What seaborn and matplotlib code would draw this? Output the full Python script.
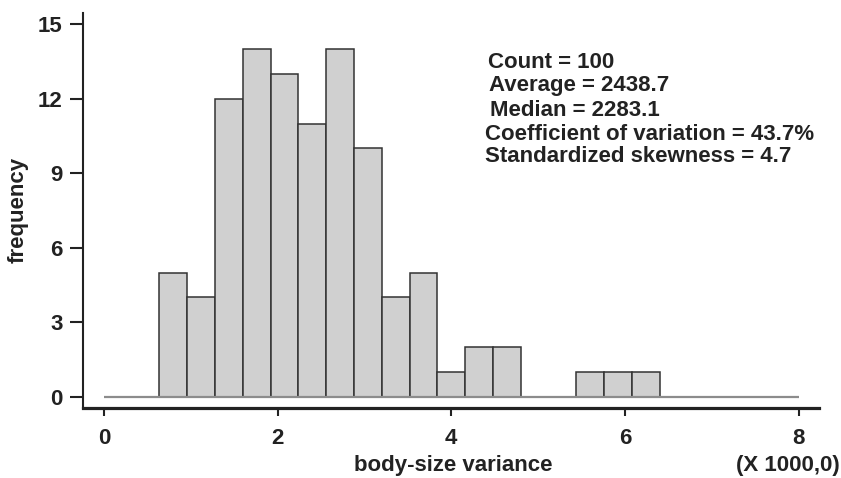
import numpy as np
import pandas as pd
import seaborn as sns
import matplotlib.pyplot as plt

# histogram data (x in units of 1000)
bin_width = 0.32
counts = [0, 0, 5, 4, 12, 14, 13, 11, 14, 10, 4, 5, 1, 2, 2,
          0, 0, 1, 1, 1, 0, 0, 0, 0, 0]
bin_edges = np.arange(len(counts) + 1) * bin_width
bin_centers = bin_edges[:-1] + bin_width / 2

x_ticks = [0, 2, 4, 6, 8]
y_ticks = [0, 3, 6, 9, 12, 15]

stats_lines = ["Count = 100",
               "Average = 2438.7",
               "Median = 2283.1",
               "Coefficient of variation = 43.7%",
               "Standardized skewness = 4.7"]

df = pd.DataFrame({"value": bin_centers, "count": counts})

sns.set_style("white")
plt.rcParams['font.family'] = ['Liberation Sans', 'DejaVu Sans']
plt.rcParams['font.weight'] = 'bold'
fs = 16

fig = plt.figure(figsize=(8.41, 4.78), dpi=100)
ax = fig.add_axes([83 / 841, 1 - 408 / 478, (819 - 83) / 841, (408 - 12.7) / 478])

sns.histplot(data=df, x="value", weights="count", binwidth=bin_width,
             binrange=(bin_edges[0], bin_edges[-1]),
             color="#d0d0d0", edgecolor="#333333", linewidth=1.1,
             alpha=1, ax=ax, zorder=2)

# hide empty bins, draw gray baseline instead
for p in ax.patches:
    if p.get_height() == 0:
        p.set_visible(False)
ax.hlines(0, bin_edges[0], bin_edges[-1], color="#8c8c8c", lw=1.6, zorder=3)

ax.set_xlim(-0.24, 8.235)
ax.set_ylim(-0.455, 15.47)
ax.set_xticks(x_ticks)
ax.set_yticks(y_ticks)
ax.tick_params(axis="x", direction="out", length=6, width=1.5, pad=8.5,
               labelsize=fs, bottom=True, color="#222222")
ax.tick_params(axis="y", direction="out", length=9.5, width=1.5, pad=5,
               labelsize=fs, left=True, color="#222222")
for lab in ax.get_xticklabels() + ax.get_yticklabels():
    lab.set_fontweight("bold")
    lab.set_color("#222222")

sns.despine(ax=ax)
ax.spines["left"].set_linewidth(1.5)
ax.spines["bottom"].set_linewidth(2.3)
ax.spines["left"].set_color("#222222")
ax.spines["bottom"].set_color("#222222")

ax.set_xlabel("body-size variance", fontsize=fs, fontweight="bold",
              color="#222222", va="center")
ax.set_ylabel("frequency", fontsize=fs, fontweight="bold",
              color="#222222", va="center")
ax.xaxis.set_label_coords(0.503, -(466 - 408) / 395.3)
ax.yaxis.set_label_coords((18 - 83) / 736, 0.5)
fig.text(840 / 841, 1 - 466 / 478, "(X 1000,0)", ha="right", va="center",
         fontsize=fs, fontweight="bold", color="#222222")

# summary statistics
stat_x = [488, 489, 490, 485, 485]
stat_y = [63, 85, 110, 134, 156]
for s, sx, sy in zip(stats_lines, stat_x, stat_y):
    fig.text(sx / 841, 1 - sy / 478, s, ha="left", va="center",
             fontsize=fs, fontweight="bold", color="#222222")

fig.savefig("out.png", dpi=100)
